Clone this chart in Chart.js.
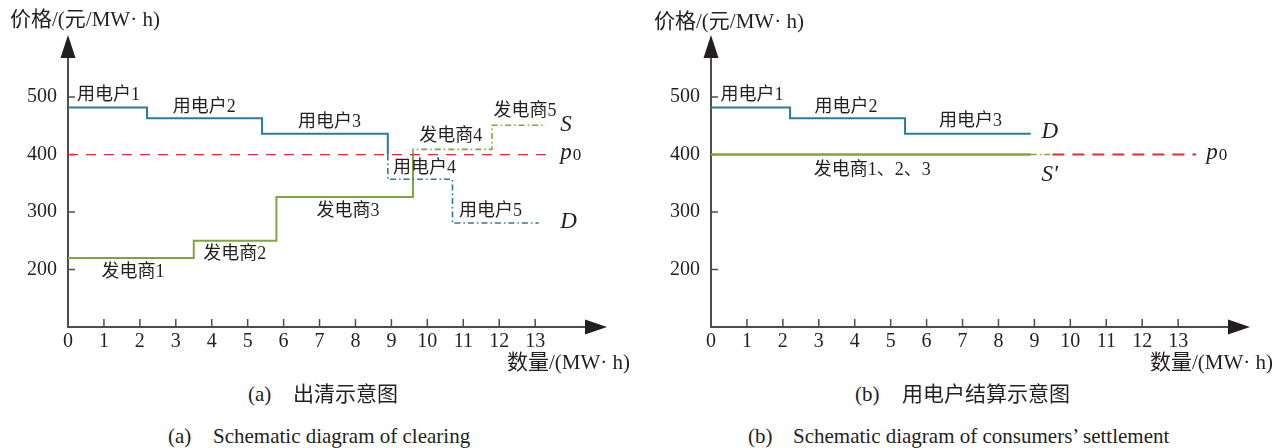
<!DOCTYPE html>
<html>
<head>
<meta charset="utf-8">
<script src="https://cdn.jsdelivr.net/npm/chart.js@4.4.1/dist/chart.umd.min.js"></script>
<style>
  body { margin: 0; width: 1285px; height: 448px; background: #fff; position: relative; overflow: hidden;
         font-family: "Liberation Serif", "Noto Sans CJK SC", serif; color: #231f20; }
  .box { position: absolute; top: 0; width: 642px; height: 380px; }
  .t { position: absolute; white-space: nowrap; line-height: 1; }
  .axt { font-size: 21px; }
  .cn { font-family: "Noto Sans CJK SC", sans-serif; font-size: 21px; }
  .en { font-size: 21px; }
</style>
</head>
<body>
<div class="box" style="left:0"><canvas id="chartA" width="642" height="380"></canvas></div>
<div class="box" style="left:643px"><canvas id="chartB" width="642" height="380"></canvas></div>

<div class="t axt" style="left:10px;top:9px">价格/(元/MW· h)</div>
<div class="t axt" style="left:654px;top:11px">价格/(元/MW· h)</div>
<div class="t axt" style="left:507px;top:352px">数量/(MW· h)</div>
<div class="t axt" style="left:1150px;top:352px">数量/(MW· h)</div>

<div class="t en" style="left:248px;top:384px">(a)</div>
<div class="t cn" style="left:293px;top:382px">出清示意图</div>
<div class="t en" style="left:855px;top:384px">(b)</div>
<div class="t cn" style="left:902px;top:382px">用电户结算示意图</div>

<div class="t en" style="left:168px;top:426px">(a)</div>
<div class="t en" style="left:213px;top:426px">Schematic diagram of clearing</div>
<div class="t en" style="left:748px;top:426px">(b)</div>
<div class="t en" style="left:793px;top:426px">Schematic diagram of consumers’ settlement</div>

<script>
// 数据
const qtyTicks = [0, 1, 2, 3, 4, 5, 6, 7, 8, 9, 10, 11, 12, 13];
const priceTicks = [200, 300, 400, 500];

const consumerNames = ['用电户1', '用电户2', '用电户3', '用电户4', '用电户5'];
const consumerEdges = [0, 2.2, 5.4, 8.9, 10.7, 13.1];
const consumerPrices = [482, 463, 436, 357, 281];

const generatorNames = ['发电商1', '发电商2', '发电商3', '发电商4', '发电商5'];
const generatorEdges = [0, 3.5, 5.8, 9.6, 11.8, 13.3];
const generatorPrices = [220, 250, 326, 409, 451];

const clearedCount = 3;        // 前三段成交
const clearingPrice = 400;     // p0
const p0EndA = 13.4;

// (b) 结算
const settleQty = [0, 8.9, 9.5, 13.5];   // 实线 / 点划线 / 虚线 分界

const BLUE = '#2b7b9e';
const GREEN = '#7ea63f';
const RED = '#e42d2f';
const AXIS = '#4d4d4d';
const TXT = '#231f20';
const FONT = '"Liberation Serif", "Noto Sans CJK SC", serif';

// 阶梯线的拐点
function steps(edges, prices, from, to) {
  const pts = [];
  for (let i = from; i < to; i++) {
    pts.push({ x: edges[i], y: prices[i] });
    pts.push({ x: edges[i + 1], y: prices[i] });
  }
  return pts;
}

const axisPlugin = {
  id: 'axisArrows',
  beforeDatasetsDraw(chart) {
    const { ctx, chartArea: a, scales: { x, y } } = chart;
    const x0 = x.getPixelForValue(0), y0 = y.getPixelForValue(y.min);
    ctx.save();
    ctx.strokeStyle = AXIS;
    ctx.lineWidth = 2;
    ctx.beginPath();
    ctx.moveTo(x0, y0); ctx.lineTo(a.right - 16, y0);
    ctx.moveTo(x0, y0 + 1); ctx.lineTo(x0, a.top + 16);
    ctx.stroke();
    ctx.lineWidth = 1.5;
    ctx.beginPath();
    qtyTicks.forEach(v => {
      if (v === 0) return;
      const px = x.getPixelForValue(v);
      ctx.moveTo(px, y0); ctx.lineTo(px, y0 - 8);
    });
    priceTicks.forEach(v => {
      const py = y.getPixelForValue(v);
      ctx.moveTo(x0, py); ctx.lineTo(x0 + 7, py);
    });
    ctx.stroke();
    ctx.fillStyle = TXT;
    ctx.beginPath();
    ctx.moveTo(a.right, y0); ctx.lineTo(a.right - 22, y0 - 7.5); ctx.lineTo(a.right - 22, y0 + 7.5);
    ctx.closePath(); ctx.fill();
    ctx.beginPath();
    ctx.moveTo(x0, a.top); ctx.lineTo(x0 - 7.5, a.top + 23); ctx.lineTo(x0 + 7.5, a.top + 23);
    ctx.closePath(); ctx.fill();
    ctx.restore();
  }
};

const notesPlugin = {
  id: 'notes',
  afterDatasetsDraw(chart, args, opts) {
    const { ctx, scales: { x, y } } = chart;
    ctx.save();
    ctx.fillStyle = TXT;
    ctx.textBaseline = 'middle';
    (opts.items || []).forEach(n => {
      const px = x.getPixelForValue(n.x), py = y.getPixelForValue(n.y);
      if (n.italic) {
        ctx.font = 'italic 23px "Liberation Serif", serif';
        ctx.textAlign = 'left';
        ctx.fillText(n.text, px, py);
        if (n.sub) {
          const w = ctx.measureText(n.text).width;
          ctx.font = '17px "Liberation Serif", serif';
          ctx.fillText(n.sub, px + w + 1, py + 2);
        }
      } else {
        ctx.font = '18px ' + FONT;
        ctx.textAlign = 'center';
        ctx.fillText(n.text, px, py);
      }
    });
    ctx.restore();
  }
};

function lineSet(data, color, width, dash) {
  return { data, borderColor: color, borderWidth: width, borderDash: dash || [],
           pointRadius: 0, fill: false, tension: 0, borderCapStyle: 'butt' };
}

function baseOptions(items) {
  return {
    responsive: false,
    animation: false,
    layout: { padding: { top: 35, right: 35, left: 0, bottom: 0 } },
    plugins: { legend: { display: false }, tooltip: { enabled: false }, notes: { items } },
    scales: {
      x: {
        type: 'linear', min: 0, max: 15,
        grid: { display: false, drawTicks: false }, border: { display: false },
        afterBuildTicks: s => { s.ticks = qtyTicks.map(v => ({ value: v })); },
        afterFit: s => { s.height = 53; },
        ticks: { autoSkip: false, maxRotation: 0, padding: 3, color: TXT,
                 font: { family: FONT, size: 20 } }
      },
      y: {
        type: 'linear', min: 100, max: 608,
        grid: { display: false, drawTicks: false }, border: { display: false },
        afterBuildTicks: s => { s.ticks = priceTicks.map(v => ({ value: v })); },
        afterFit: s => { s.width = 68; },
        ticks: { padding: 11, color: TXT, font: { family: FONT, size: 20 } }
      }
    }
  };
}

// (a) 出清示意图
const cEdge = consumerEdges[clearedCount], gEdge = generatorEdges[clearedCount];
new Chart(document.getElementById('chartA'), {
  type: 'line',
  data: {
    datasets: [
      lineSet([{ x: 0, y: clearingPrice }, { x: p0EndA, y: clearingPrice }], RED, 1.2, [10, 8]),
      lineSet(steps(consumerEdges, consumerPrices, 0, clearedCount).concat([{ x: cEdge, y: clearingPrice }]), BLUE, 2),
      lineSet([{ x: cEdge, y: clearingPrice }].concat(steps(consumerEdges, consumerPrices, clearedCount, consumerPrices.length)), BLUE, 1.6, [6, 3, 1.5, 3]),
      lineSet(steps(generatorEdges, generatorPrices, 0, clearedCount).concat([{ x: gEdge, y: clearingPrice }]), GREEN, 2),
      lineSet([{ x: gEdge, y: clearingPrice }].concat(steps(generatorEdges, generatorPrices, clearedCount, generatorPrices.length)), GREEN, 1.6, [6, 3, 1.5, 3])
    ]
  },
  options: baseOptions([
    { text: consumerNames[0], x: 1.13, y: 504 },
    { text: consumerNames[1], x: 3.79, y: 482 },
    { text: consumerNames[2], x: 7.28, y: 457 },
    { text: consumerNames[3], x: 9.92, y: 377 },
    { text: consumerNames[4], x: 11.76, y: 301 },
    { text: generatorNames[0], x: 1.81, y: 196 },
    { text: generatorNames[1], x: 4.64, y: 226 },
    { text: generatorNames[2], x: 7.79, y: 302 },
    { text: generatorNames[3], x: 10.65, y: 432 },
    { text: generatorNames[4], x: 12.72, y: 476 },
    { text: 'S', x: 13.7, y: 452, italic: true },
    { text: 'p', x: 13.7, y: 402, italic: true, sub: '0' },
    { text: 'D', x: 13.7, y: 283, italic: true }
  ]),
  plugins: [axisPlugin, notesPlugin]
});

// (b) 用电户结算示意图
new Chart(document.getElementById('chartB'), {
  type: 'line',
  data: {
    datasets: [
      lineSet(steps(consumerEdges, consumerPrices, 0, clearedCount), BLUE, 2),
      lineSet([{ x: settleQty[0], y: clearingPrice }, { x: settleQty[1], y: clearingPrice }], GREEN, 2.5),
      lineSet([{ x: settleQty[1], y: clearingPrice }, { x: settleQty[2], y: clearingPrice }], GREEN, 1.6, [6, 3, 1.5, 3]),
      lineSet([{ x: settleQty[2], y: clearingPrice }, { x: settleQty[3], y: clearingPrice }], RED, 2, [12, 8])
    ]
  },
  options: baseOptions([
    { text: consumerNames[0], x: 1.14, y: 504 },
    { text: consumerNames[1], x: 3.76, y: 482 },
    { text: consumerNames[2], x: 7.22, y: 458 },
    { text: '发电商1、2、3', x: 4.49, y: 372 },
    { text: 'D', x: 9.2, y: 440, italic: true },
    { text: 'S′', x: 9.2, y: 365, italic: true },
    { text: 'p', x: 13.78, y: 402, italic: true, sub: '0' }
  ]),
  plugins: [axisPlugin, notesPlugin]
});
</script>
</body>
</html>
